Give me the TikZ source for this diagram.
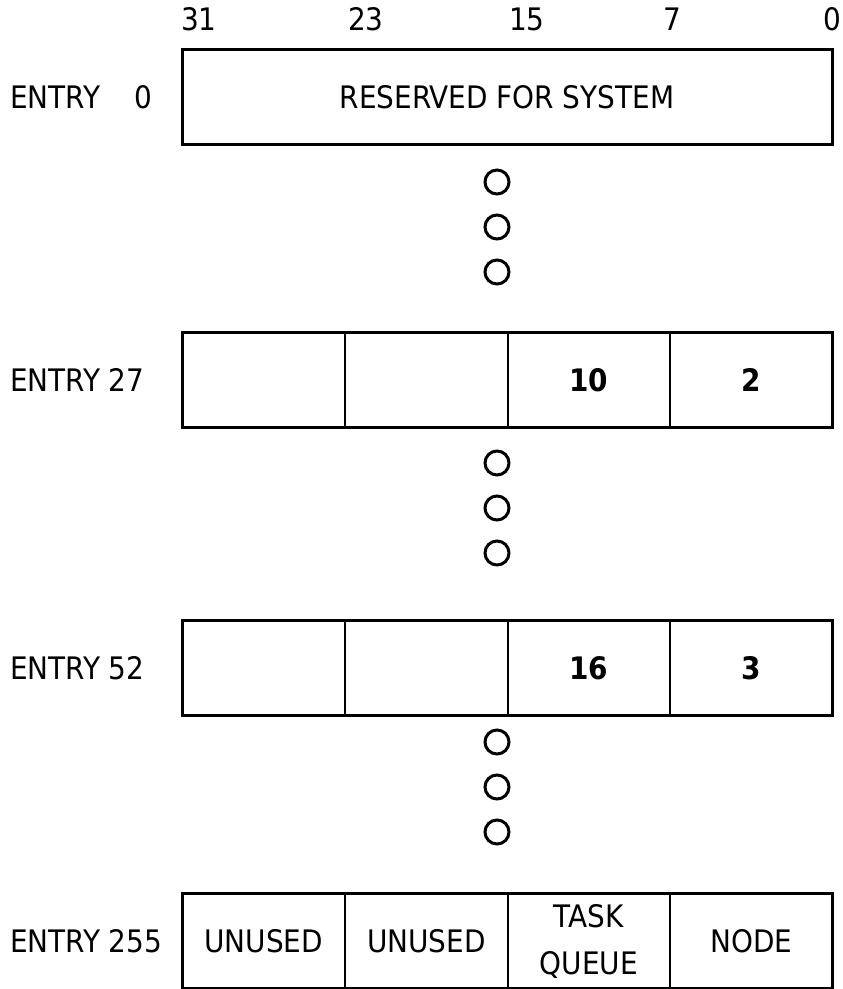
\documentclass[tikz,border=0pt]{standalone}
\usepackage{fontspec}
\setmainfont{DejaVu Sans Condensed}
\usetikzlibrary{positioning}
\newcommand{\tablefont}{\fontsize{31}{47}\selectfont}
\tikzset{
  field/.style={draw=black,line width=2pt,outer sep=0pt,inner sep=0pt,
                minimum width=162.5pt,minimum height=95pt,align=center,
                font=\tablefont},
  widefield/.style={field,minimum width=650pt},
  frame/.style={draw=black,line width=3pt},
  entrylabel/.style={anchor=west,inner sep=0pt,font=\tablefont},
  bitno/.style={inner sep=0pt,font=\tablefont},
  gapdot/.style={circle,draw=black,line width=3pt,minimum size=24pt,inner sep=0pt}
}

\begin{document}
\begin{tikzpicture}[x=1pt,y=-1pt]
  \useasboundingbox (0,0) rectangle (843,989);

  % bit positions
  \foreach \bit/\xpos in {31/199,23/366,15/527,7/672,0/832}
    \node[bitno] (bit\bit) at (\xpos,19) {\bit};

  % entry 0
  \node[widefield] (sys) at (507,97) {RESERVED FOR SYSTEM};
  \draw[frame] (sys.north west) rectangle (sys.south east);
  \node[entrylabel] (lab0) at (10,97) {ENTRY\hspace{1.1em}0};

  % entries with four fields
  \foreach \row/\ypos/\fa/\fb/\fc/\fd in {
      27/380/{}/{}/{\textbf{10}}/{\textbf{2}},
      52/668/{}/{}/{\textbf{16}}/{\textbf{3}},
      255/941/UNUSED/UNUSED/{TASK\\QUEUE}/NODE} {
    \node[field] (f\row a) at (263.75,\ypos) {\fa};
    \node[field,right=0pt of f\row a] (f\row b) {\fb};
    \node[field,right=0pt of f\row b] (f\row c) {\fc};
    \node[field,right=0pt of f\row c] (f\row d) {\fd};
    \draw[frame] (f\row a.north west) rectangle (f\row d.south east);
    \node[entrylabel] (lab\row) at (10,\ypos) {ENTRY \row};
  }

  % skipped entries
  \foreach \cy in {182,227,272,463,508,553,742,787,832}
    \node[gapdot] (dot\cy) at (497,\cy) {};
\end{tikzpicture}
\end{document}
